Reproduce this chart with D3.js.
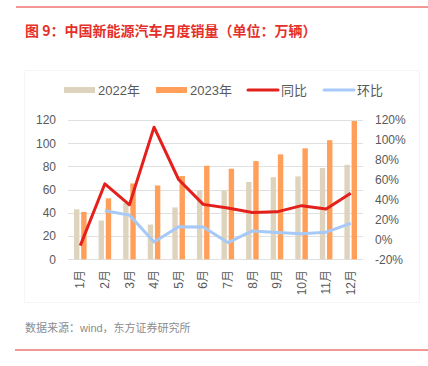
<!DOCTYPE html>
<html><head><meta charset="utf-8">
<script src="https://cdn.jsdelivr.net/npm/d3@7"></script>
<style>
html,body{margin:0;padding:0;background:#fff;}
text{font-family:"Liberation Sans","Noto Sans CJK SC",sans-serif;}
</style></head>
<body>
<svg id="c" width="428" height="366"></svg>
<script>
const months = ["1月","2月","3月","4月","5月","6月","7月","8月","9月","10月","11月","12月"];
const sales2022 = [43.1,33.4,48.4,29.9,44.7,59.6,59.3,66.6,70.8,71.4,78.6,81.4];
const sales2023 = [40.8,52.5,65.3,63.6,71.7,80.6,78.0,84.6,90.4,95.6,102.6,119.1];
const yoy = [-6.3,55.9,34.8,112.8,60.2,35.2,31.6,27.0,27.7,33.9,30.5,46.4];
const mom = [null,28.7,24.4,-2.6,12.7,12.4,-3.2,8.5,6.9,5.8,7.3,16.1];
const leftTicks = [0,20,40,60,80,100,120];
const rightTicks = [-20,0,20,40,60,80,100,120];
const seriesNames = ["2022年","2023年","同比","环比"];

const colors = {c22:"#DED4BE", c23:"#FF9F5A", yoy:"#E3201C", mom:"#A6C9F7"};
const svg = d3.select("#c");

// frame lines
svg.append("line").attr("x1",16).attr("x2",428).attr("y1",7).attr("y2",7).attr("stroke","#E8302A").attr("stroke-width",1);
svg.append("line").attr("x1",15).attr("x2",428).attr("y1",350).attr("y2",350).attr("stroke","#E8302A").attr("stroke-width",1);
svg.append("text").attr("x",25).attr("y",36).attr("fill","#E5302A").attr("font-size","14px").attr("font-weight","bold")
  .style("font-family","'Noto Sans CJK SC',sans-serif").text("图 9：中国新能源汽车月度销量（单位：万辆）");
svg.append("rect").attr("x",24.5).attr("y",70.5).attr("width",395).attr("height",232).attr("fill","none").attr("stroke","#F5F5F5");

const x = d3.scaleBand().domain(months).range([68,363]).padding(0);
const x1 = d3.scaleBand().domain(["a","b"]).range([6, x.bandwidth()-6]).paddingInner(0.25);
const yL = d3.scaleLinear().domain([0,120]).range([259.3,120]);
const yR = d3.scaleLinear().domain([-20,120]).range([259.3,120]);

// gridlines
svg.append("g").selectAll("line").data(leftTicks).join("line")
  .attr("x1",68).attr("x2",363).attr("y1",d=>Math.round(yL(d))+0.5).attr("y2",d=>Math.round(yL(d))+0.5)
  .attr("stroke","#E0E0E0").attr("stroke-width",1);

// axes
const gl = svg.append("g").attr("transform","translate(60,0)")
  .call(d3.axisLeft(yL).tickValues(leftTicks).tickSize(0).tickPadding(4));
gl.select(".domain").remove();
gl.selectAll("text").attr("font-size","12px").attr("fill","#595959").style("font-family","'Liberation Sans',sans-serif");

const gr = svg.append("g").attr("transform","translate(371,0)")
  .call(d3.axisRight(yR).tickValues(rightTicks).tickFormat(d=>d+"%").tickSize(0).tickPadding(4));
gr.select(".domain").remove();
gr.selectAll("text").attr("font-size","12px").attr("fill","#595959").style("font-family","'Liberation Sans',sans-serif");

const gx = svg.append("g").attr("transform","translate(0,266)")
  .call(d3.axisBottom(x).tickSize(0).tickPadding(0));
gx.select(".domain").remove();
gx.selectAll("text").attr("font-size","12px").attr("fill","#595959")
  .attr("text-anchor","end").attr("transform","rotate(-90)").attr("x",-4).attr("y",0).attr("dy","0.35em");

// bars
svg.append("g").selectAll("rect").data(sales2022).join("rect")
  .attr("x",(d,i)=>x(months[i])+x1("a")).attr("width",x1.bandwidth())
  .attr("y",d=>yL(d)).attr("height",d=>yL(0)-yL(d)).attr("fill",colors.c22);
svg.append("g").selectAll("rect").data(sales2023).join("rect")
  .attr("x",(d,i)=>x(months[i])+x1("b")).attr("width",x1.bandwidth())
  .attr("y",d=>yL(d)).attr("height",d=>yL(0)-yL(d)).attr("fill",colors.c23);

// lines
const cx = i => x(months[i]) + x.bandwidth()/2;
const line = d3.line().defined(d=>d!=null).x((d,i)=>cx(i)).y(d=>yR(d));
svg.append("path").datum(mom).attr("d",line).attr("fill","none").attr("stroke",colors.mom).attr("stroke-width",3).attr("stroke-linejoin","round");
svg.append("path").datum(yoy).attr("d",line).attr("fill","none").attr("stroke",colors.yoy).attr("stroke-width",3).attr("stroke-linejoin","round");

// legend
const lg = svg.append("g");
const legendItems = [
  {name:seriesNames[0], type:"rect", color:colors.c22, x:64},
  {name:seriesNames[1], type:"rect", color:colors.c23, x:156},
  {name:seriesNames[2], type:"line", color:colors.yoy, x:247},
  {name:seriesNames[3], type:"line", color:colors.mom, x:323}
];
legendItems.forEach(it=>{
  if(it.type==="rect") lg.append("rect").attr("x",it.x).attr("y",87).attr("width",31).attr("height",6).attr("fill",it.color);
  else lg.append("line").attr("x1",it.x+1).attr("x2",it.x+31).attr("y1",90).attr("y2",90).attr("stroke",it.color).attr("stroke-width",3).attr("stroke-linecap","round");
  lg.append("text").attr("x",it.x+34).attr("y",95).attr("font-size","13px").attr("fill","#595959").text(it.name);
});

svg.append("text").attr("x",25).attr("y",332).attr("font-size","11px").attr("fill","#8C8C8C").text("数据来源：wind，东方证券研究所");
</script>
</body></html>
